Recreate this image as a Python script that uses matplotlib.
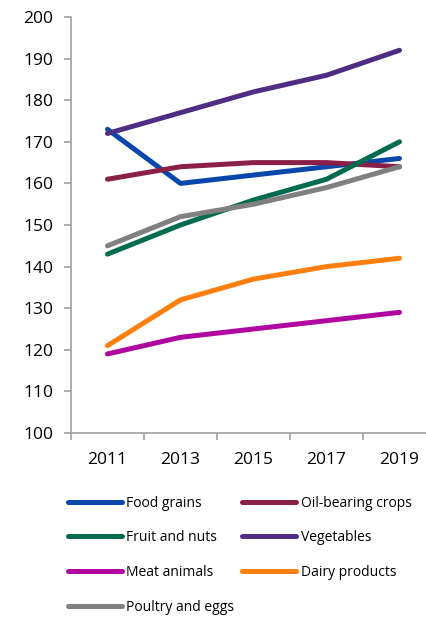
import matplotlib
matplotlib.use("Agg")
import matplotlib.pyplot as plt

years = ["2011", "2013", "2015", "2017", "2019"]
food_grains = [173, 160, 162, 164, 166]
oil_crops = [161, 164, 165, 165, 164]
fruit_nuts = [143, 150, 156, 161, 170]
vegetables = [172, 177, 182, 186, 192]
meat_animals = [119, 123, 125, 127, 129]
dairy = [121, 132, 137, 140, 142]
poultry = [145, 152, 155, 159, 164]

series = [
    ("Food grains", food_grains, "#0a47ab"),
    ("Oil-bearing crops", oil_crops, "#8a1f47"),
    ("Fruit and nuts", fruit_nuts, "#036c4f"),
    ("Vegetables", vegetables, "#4e2d84"),
    ("Meat animals", meat_animals, "#b0089e"),
    ("Dairy products", dairy, "#ff7f0e"),
    ("Poultry and eggs", poultry, "#808080"),
]

plt.rcParams['font.family'] = ['Open Sans', 'DejaVu Sans']
W, H = 426, 618
fig = plt.figure(figsize=(W / 100, H / 100), dpi=100)
ax = fig.add_axes([71 / W, (H - 433) / H, (436 - 71) / W, (433 - 17) / H])

x = list(range(len(years)))
handles = {}
for name, vals, col in series:
    ln, = ax.plot(x, vals, color=col, lw=3.6, solid_capstyle='round', solid_joinstyle='round', label=name)
    handles[name] = ln

ax.set_xlim(-0.5, 4.5)
ax.set_ylim(100, 200)
ax.set_yticks(range(100, 201, 10))
ax.set_xticks(x)
ax.set_xticklabels(years)
ax.set_xticks([i - 0.5 for i in range(6)], minor=True)
ax.tick_params(axis='x', which='major', length=0, pad=14, labelsize=12.5, colors='black')
ax.tick_params(axis='x', which='minor', length=5, width=1.2, color='#a0a0a0')
ax.tick_params(axis='y', length=5, width=1.2, color='#a0a0a0', labelsize=12.5, pad=8)
for lbl in ax.get_xticklabels() + ax.get_yticklabels():
    lbl.set_color('black')
for s in ['top', 'right']:
    ax.spines[s].set_visible(False)
for s in ['left', 'bottom']:
    ax.spines[s].set_color('#a0a0a0')
    ax.spines[s].set_linewidth(1.2)

order = ["Food grains", "Fruit and nuts", "Meat animals", "Poultry and eggs",
         "Oil-bearing crops", "Vegetables", "Dairy products"]
fig.legend([handles[n] for n in order], order, ncol=2, loc='upper left',
           bbox_to_anchor=(62 / W, (H - 490) / H), frameon=False,
           fontsize=10, handlelength=3.9, handletextpad=0.3,
           columnspacing=0.6, labelspacing=1.42, borderaxespad=0)

fig.savefig("out.png", dpi=100)
